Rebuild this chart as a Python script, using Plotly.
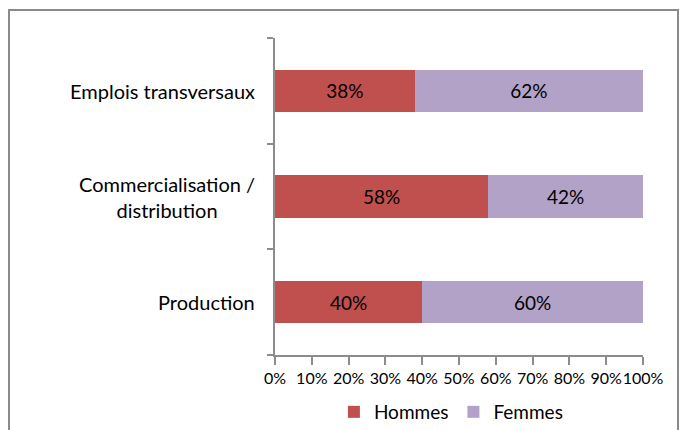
import plotly.graph_objects as go

categories = ["Production", "Commercialisation /<br>distribution", "Emplois transversaux"]
hommes = [40, 58, 38]
femmes = [60, 42, 62]
x_ticks = [0, 10, 20, 30, 40, 50, 60, 70, 80, 90, 100]

FONT = "Lato, 'Open Sans', sans-serif"
AX = "#8c8c8c"

fig = go.Figure()
fig.add_trace(go.Bar(
    y=categories, x=hommes, orientation="h", name="Hommes",
    marker=dict(color="#C0504D", line=dict(width=0)),
    text=[f"{v}%" for v in hommes], textposition="inside", insidetextanchor="middle",
    textfont=dict(color="black", size=19, family=FONT),
))
fig.add_trace(go.Bar(
    y=categories, x=femmes, orientation="h", name="Femmes",
    marker=dict(color="#B3A2C7", line=dict(width=0)),
    text=[f"{v}%" for v in femmes], textposition="inside", insidetextanchor="middle",
    textfont=dict(color="black", size=19, family=FONT),
))

for c in categories:
    fig.add_annotation(
        x=-0.05, xref="paper", y=c, yref="y", text=c, showarrow=False,
        xanchor="right", yanchor="middle", align="center",
        font=dict(size=20, color="black", family=FONT),
    )

fig.add_shape(
    type="rect", xref="paper", yref="paper",
    x0=(9 - 275) / 368, x1=(678 - 275) / 368,
    y0=(355 - 445) / 317, y1=(355 - 10) / 317,
    line=dict(color="#8a8a8a", width=2), fillcolor="rgba(0,0,0,0)", layer="below",
)

fig.update_layout(
    barmode="stack",
    bargap=0.6,
    width=684, height=430,
    margin=dict(l=275, r=41, t=38, b=75, autoexpand=False),
    plot_bgcolor="white", paper_bgcolor="white",
    font=dict(family=FONT, size=16, color="black"),
    showlegend=True,
    legend=dict(orientation="h", x=0.478, xanchor="center", xref="paper",
                y=(430 - 412) / 430, yref="container", yanchor="middle",
                font=dict(size=19, family=FONT), traceorder="normal",
                itemwidth=30, itemsizing="constant", tracegroupgap=0),
    uniformtext=dict(mode="show", minsize=10),
)
fig.update_xaxes(
    range=[0, 100], tickvals=x_ticks, ticktext=[f"{v}%" for v in x_ticks],
    tickangle=0,
    showgrid=False, zeroline=False, showline=True, linecolor=AX, linewidth=2,
    ticks="outside", ticklen=8, tickcolor=AX, tickwidth=2,
    tickfont=dict(size=16, family=FONT), fixedrange=True,
)
fig.update_yaxes(
    type="category", categoryorder="array", categoryarray=categories,
    showticklabels=False, tickson="boundaries",
    showgrid=False, zeroline=False, showline=True, linecolor=AX, linewidth=2,
    ticks="outside", ticklen=6, tickcolor=AX, tickwidth=2, fixedrange=True,
)

fig.write_html("out.html")
